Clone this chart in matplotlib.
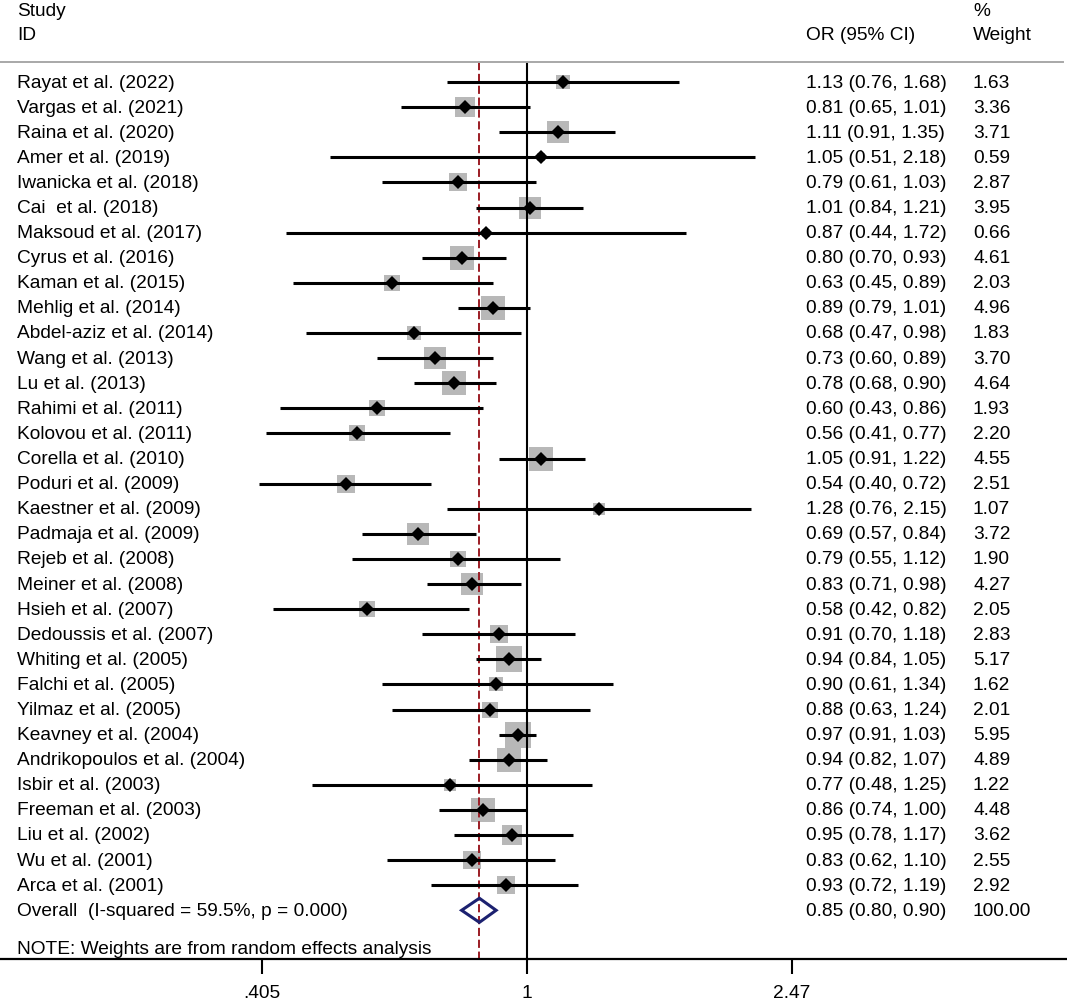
import numpy as np
import matplotlib
matplotlib.use("Agg")
import matplotlib.pyplot as plt
import matplotlib.transforms as mtransforms
from matplotlib.patches import Polygon

plt.rcParams['font.family'] = ['Liberation Sans', 'DejaVu Sans']

studies = [
    "Rayat et al. (2022)", "Vargas et al. (2021)", "Raina et al. (2020)",
    "Amer et al. (2019)", "Iwanicka et al. (2018)", "Cai  et al. (2018)",
    "Maksoud et al. (2017)", "Cyrus et al. (2016)", "Kaman et al. (2015)",
    "Mehlig et al. (2014)", "Abdel-aziz et al. (2014)", "Wang et al. (2013)",
    "Lu et al. (2013)", "Rahimi et al. (2011)", "Kolovou et al. (2011)",
    "Corella et al. (2010)", "Poduri et al. (2009)", "Kaestner et al. (2009)",
    "Padmaja et al. (2009)", "Rejeb et al. (2008)", "Meiner et al. (2008)",
    "Hsieh et al. (2007)", "Dedoussis et al. (2007)", "Whiting et al. (2005)",
    "Falchi et al. (2005)", "Yilmaz et al. (2005)", "Keavney et al. (2004)",
    "Andrikopoulos et al. (2004)", "Isbir et al. (2003)", "Freeman et al. (2003)",
    "Liu et al. (2002)", "Wu et al. (2001)", "Arca et al. (2001)",
]
odds = [1.13, 0.81, 1.11, 1.05, 0.79, 1.01, 0.87, 0.80, 0.63, 0.89, 0.68,
        0.73, 0.78, 0.60, 0.56, 1.05, 0.54, 1.28, 0.69, 0.79, 0.83, 0.58,
        0.91, 0.94, 0.90, 0.88, 0.97, 0.94, 0.77, 0.86, 0.95, 0.83, 0.93]
ci_low = [0.76, 0.65, 0.91, 0.51, 0.61, 0.84, 0.44, 0.70, 0.45, 0.79, 0.47,
          0.60, 0.68, 0.43, 0.41, 0.91, 0.40, 0.76, 0.57, 0.55, 0.71, 0.42,
          0.70, 0.84, 0.61, 0.63, 0.91, 0.82, 0.48, 0.74, 0.78, 0.62, 0.72]
ci_high = [1.68, 1.01, 1.35, 2.18, 1.03, 1.21, 1.72, 0.93, 0.89, 1.01, 0.98,
           0.89, 0.90, 0.86, 0.77, 1.22, 0.72, 2.15, 0.84, 1.12, 0.98, 0.82,
           1.18, 1.05, 1.34, 1.24, 1.03, 1.07, 1.25, 1.00, 1.17, 1.10, 1.19]
weights = [1.63, 3.36, 3.71, 0.59, 2.87, 3.95, 0.66, 4.61, 2.03, 4.96, 1.83,
           3.70, 4.64, 1.93, 2.20, 4.55, 2.51, 1.07, 3.72, 1.90, 4.27, 2.05,
           2.83, 5.17, 1.62, 2.01, 5.95, 4.89, 1.22, 4.48, 3.62, 2.55, 2.92]

overall_label = "Overall  (I-squared = 59.5%, p = 0.000)"
overall_or, overall_low, overall_high = 0.85, 0.80, 0.90
note = "NOTE: Weights are from random effects analysis"
tick_vals = [0.405, 1, 2.47]
tick_labels = [".405", "1", "2.47"]

# layout in pixels of a 1067x1003 canvas
W, H = 1067, 1003
row0, row_step = 83, 25.1
axis_px = 960


def row(px):
    return (px - row0) / row_step


fig = plt.figure(figsize=(W / 100, H / 100), dpi=100)
ax = fig.add_axes([0, (H - axis_px) / H, 1, axis_px / H])
ax.set_xscale("log")
ax.set_xlim(np.exp(-527 / 293), np.exp(540 / 293))
ax.set_ylim(row(axis_px), row(0))

for s in ["top", "left", "right"]:
    ax.spines[s].set_visible(False)
ax.spines["bottom"].set_linewidth(1.6)
ax.set_yticks([])
ax.minorticks_off()
ax.set_xticks(tick_vals)
ax.set_xticklabels(tick_labels)
ax.tick_params(axis="x", direction="out", length=11, width=1.5, pad=7,
               labelsize=13.8)

y = np.arange(len(studies))
n = len(studies)
fs = 13.8

# weight boxes, side ~ sqrt(weight)
sides = 11 * np.sqrt(weights) * 0.72
for yi, o, sz in zip(y, odds, sides):
    ax.plot(o, yi, marker="s", ms=sz, color="#b8b8b8", mew=0, zorder=1)

top = row(63)
ax.vlines(1, top, row(axis_px), color="black", lw=1.5, zorder=2)
ax.vlines(overall_or, top, row(axis_px), color="#9b1c24", lw=1.4,
          linestyles=(0, (4.2, 1.9)), zorder=2)

ax.hlines(y, ci_low, ci_high, color="black", lw=2.2, zorder=3)
ax.plot(odds, y, "D", color="black", ms=7.4, mew=0, zorder=4)

# overall diamond
h = 0.48
yo = n
dia = Polygon([(overall_low, yo), (overall_or, yo - h), (overall_high, yo),
               (overall_or, yo + h)], closed=True, facecolor="none",
              edgecolor="#1c2170", lw=2.2, zorder=5)
ax.add_patch(dia)

trans = mtransforms.blended_transform_factory(ax.transAxes, ax.transData)
x_name, x_or, x_w = 17 / W, 806 / W, 973 / W

ax.plot([0, 1063 / W], [row(63), row(63)], color="#a8a8a8", lw=1.4,
        transform=trans, clip_on=False)

ax.text(x_name, row(11), "Study", transform=trans, va="center", fontsize=fs)
ax.text(x_name, row(35), "ID", transform=trans, va="center", fontsize=fs)
ax.text(x_or, row(35), "OR (95% CI)", transform=trans, va="center", fontsize=fs)
ax.text(x_w, row(12), "%", transform=trans, va="center", fontsize=fs)
ax.text(x_w, row(35), "Weight", transform=trans, va="center", fontsize=fs)

for yi, name, o, lo, hi, w in zip(y, studies, odds, ci_low, ci_high, weights):
    ax.text(x_name, yi, name, transform=trans, va="center", fontsize=fs)
    ax.text(x_or, yi, f"{o:.2f} ({lo:.2f}, {hi:.2f})", transform=trans,
            va="center", fontsize=fs)
    ax.text(x_w, yi, f"{w:.2f}", transform=trans, va="center", fontsize=fs)

ax.text(x_name, yo, overall_label, transform=trans, va="center", fontsize=fs)
ax.text(x_or, yo, f"{overall_or:.2f} ({overall_low:.2f}, {overall_high:.2f})",
        transform=trans, va="center", fontsize=fs)
ax.text(x_w, yo, "100.00", transform=trans, va="center", fontsize=fs)
ax.text(x_name, row(949), note, transform=trans, va="center", fontsize=fs)

fig.savefig("out.png", dpi=100)
